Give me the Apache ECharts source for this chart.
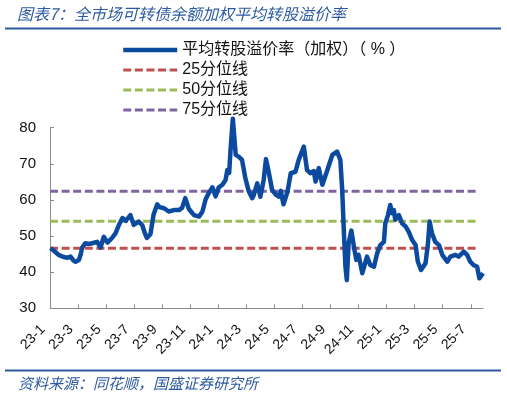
<!DOCTYPE html>
<html>
<head>
<meta charset="utf-8">
<script src="https://cdn.jsdelivr.net/npm/echarts@6/dist/echarts.min.js"></script>
<style>
html,body{margin:0;padding:0;background:#fff;}
#chart{width:507px;height:396px;}
</style>
</head>
<body>
<div id="chart"></div>
<script>
const dates = [
'2023-01-02','2023-01-11','2023-01-20','2023-01-31','2023-02-08','2023-02-14','2023-02-20','2023-02-24',
'2023-03-03','2023-03-07','2023-03-10','2023-03-17','2023-03-24','2023-04-01','2023-04-12','2023-04-19',
'2023-04-26','2023-05-04','2023-05-15','2023-05-22','2023-05-29','2023-06-06','2023-06-13','2023-06-17',
'2023-06-23','2023-06-30','2023-07-11','2023-07-19','2023-07-24','2023-07-29','2023-08-06','2023-08-13',
'2023-08-21','2023-08-26','2023-09-05','2023-09-15','2023-09-26','2023-10-07','2023-10-14','2023-10-21',
'2023-10-29','2023-11-09','2023-11-20','2023-11-27','2023-12-04','2023-12-11','2023-12-19','2023-12-26',
'2023-12-30','2024-01-02','2024-01-10','2024-01-17','2024-01-21','2024-01-25','2024-01-28','2024-02-02',
'2024-02-08','2024-02-14','2024-02-21','2024-02-28','2024-03-06','2024-03-14','2024-03-17','2024-03-25',
'2024-04-01','2024-04-08','2024-04-13','2024-04-19','2024-04-26','2024-05-04','2024-05-11','2024-05-15',
'2024-05-21','2024-05-30','2024-06-06','2024-06-16','2024-06-23','2024-07-04','2024-07-11','2024-07-19',
'2024-07-26','2024-07-30','2024-08-06','2024-08-14','2024-08-25','2024-09-05','2024-09-15','2024-09-22',
'2024-09-26','2024-09-30','2024-10-03','2024-10-06','2024-10-10','2024-10-16','2024-10-23','2024-10-27',
'2024-11-01','2024-11-09','2024-11-12','2024-11-19','2024-11-26','2024-12-04','2024-12-11','2024-12-18',
'2024-12-26','2024-12-29','2025-01-04','2025-01-09','2025-01-13','2025-01-17','2025-01-20','2025-01-28',
'2025-02-04','2025-02-11','2025-02-17','2025-02-24','2025-03-03','2025-03-08','2025-03-15','2025-03-25',
'2025-03-30','2025-04-03','2025-04-08','2025-04-15','2025-04-23','2025-04-30','2025-05-11','2025-05-18',
'2025-05-29','2025-06-05','2025-06-16','2025-06-23','2025-06-30','2025-07-07','2025-07-15','2025-07-20',
'2025-07-28'
];
const premium = [
46.7,45.8,44.8,44.2,44.0,44.3,43.2,42.9,
43.4,45.0,46.8,48.0,47.8,48.0,48.4,46.8,
49.8,48.2,49.6,50.8,53.0,55.0,54.2,53.8,
55.8,53.1,54.0,53.0,51.0,49.5,50.5,56.0,
58.8,58.0,57.7,56.8,57.2,57.2,57.8,60.5,
57.5,55.8,55.4,56.8,60.2,61.9,63.5,61.0,
60.5,63.5,64.2,65.5,68.3,67.5,73.8,82.5,
72.5,72.0,71.1,66.0,62.5,60.5,61.2,64.6,
60.9,65.5,71.3,67.6,62.8,61.5,60.9,62.5,
58.8,62.3,67.4,67.8,71.1,74.8,68.3,67.4,
68.0,65.1,68.8,64.2,68.3,72.5,73.4,71.1,
62.8,49.8,41.5,37.8,48.0,51.5,46.1,43.4,
44.8,39.7,39.2,44.3,42.0,41.5,45.2,47.5,
48.4,53.5,55.8,58.6,56.3,57.2,54.5,55.8,
53.5,52.6,51.2,48.9,47.5,42.9,40.6,42.5,
47.5,54.0,50.8,48.4,47.5,44.8,42.9,44.3,
44.8,44.3,45.7,44.8,42.9,42.0,41.5,38.3,
39.7
];
const quantileNames = ['25分位线','50分位线','75分位线'];
const quantileValues = [46.6, 54.1, 62.4];
const quantileColors = ['#C0504D','#9BBB59','#8064A2'];
const quantileStart = '2023-01-01';
const quantileEnd = '2025-07-15';
const tickLabels = ['23-1','23-3','23-5','23-7','23-9','23-11','24-1','24-3','24-5','24-7','24-9','24-11','25-1','25-3','25-5','25-7'];
const mainName = '平均转股溢价率（加权）（ % ）';

function monthIndex(s){
  const p = s.split('-').map(Number);
  const dim = new Date(p[0], p[1], 0).getDate();
  return (p[0]-2023)*12 + (p[1]-1) + (p[2]-1)/dim;
}
const xMax = monthIndex(dates[dates.length-1]);
const tickVals = tickLabels.map((_, i) => i*2);
const FONT = '"Liberation Sans", Arial, "Noto Sans CJK SC", sans-serif';

const chart = echarts.init(document.getElementById('chart'), null, {renderer:'canvas'});
const series = [{
  name: mainName, type: 'line', showSymbol: false, symbol: 'none', clip: false, z: 5,
  data: dates.map((d, i) => [monthIndex(d), premium[i]]),
  lineStyle: {color: '#0B4A9E', width: 4.5, join: 'round'},
  itemStyle: {color: '#0B4A9E'}
}];
quantileNames.forEach((n, i) => {
  series.push({
    name: n, type: 'line', showSymbol: false, symbol: 'none', z: 3,
    data: [[monthIndex(quantileStart), quantileValues[i]], [monthIndex(quantileEnd), quantileValues[i]]],
    lineStyle: {color: quantileColors[i], width: 3, type: [8, 3.6]},
    itemStyle: {color: quantileColors[i]}
  });
});

chart.setOption({
  animation: false,
  backgroundColor: '#fff',
  textStyle: {fontFamily: FONT},
  legend: {
    orient: 'vertical', left: 116, top: 37,
    itemWidth: 54, itemHeight: 14, itemGap: 4,
    itemStyle: {opacity: 0},
    lineStyle: {width: 'inherit'},
    textStyle: {fontSize: 16, color: '#111', fontFamily: FONT},
    data: [mainName].concat(quantileNames)
  },
  grid: {left: 50, right: 24, top: 127.7, bottom: 87.7},
  xAxis: {
    type: 'value', min: 0, max: xMax,
    splitLine: {show: false},
    axisLine: {lineStyle: {color: '#8C8C8C', width: 1}},
    axisTick: {show: true, inside: true, length: 4, customValues: tickVals, lineStyle: {color: '#8C8C8C'}},
    axisLabel: {
      customValues: tickVals, rotate: 45, margin: 12, fontSize: 14, color: '#111', fontFamily: FONT,
      padding: [0, 10, 0, 0],
      formatter: v => tickLabels[Math.round(v/2)] || ''
    }
  },
  yAxis: {
    type: 'value', min: 30, max: 80, interval: 10,
    splitLine: {show: false},
    axisLine: {show: true, lineStyle: {color: '#8C8C8C', width: 1}},
    axisTick: {show: true, inside: true, length: 4, lineStyle: {color: '#8C8C8C'}},
    axisLabel: {fontSize: 15, color: '#111', margin: 14, fontFamily: FONT}
  },
  graphic: [
    {type: 'text', left: 17, top: 6, style: {text: '图表7：全市场可转债余额加权平均转股溢价率', fill: '#2C5AA0', font: 'italic 16px "Noto Sans CJK SC", sans-serif'}},
    {type: 'rect', shape: {x: 5, y: 27.5, width: 496, height: 2}, style: {fill: '#2C5AA0'}},
    {type: 'rect', shape: {x: 5, y: 369.5, width: 496, height: 2}, style: {fill: '#2C5AA0'}},
    {type: 'text', left: 18, top: 376, style: {text: '资料来源：同花顺，国盛证券研究所', fill: '#2C5AA0', font: 'italic 15px "Noto Sans CJK SC", sans-serif'}}
  ],
  series: series
});
</script>
</body>
</html>
